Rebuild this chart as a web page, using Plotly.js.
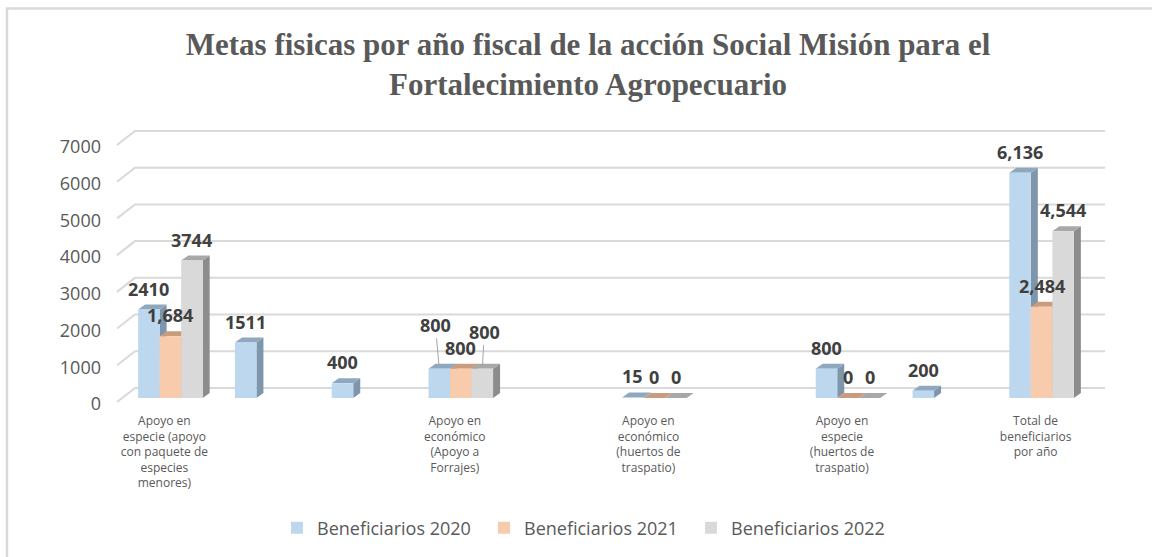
<!DOCTYPE html>
<html><head><meta charset="utf-8">
<script src="https://cdn.plot.ly/plotly-3.0.1.min.js"></script>
<style>html,body{margin:0;padding:0;background:#fff}#chart{width:1152px;height:557px}</style>
</head><body><div id="chart"></div>
<script>
// ---------- data ----------
const categories = [
  "Apoyo en<br>especie (apoyo<br>con paquete de<br>especies<br>menores)",
  "", "",
  "Apoyo en<br>económico<br>(Apoyo a<br>Forrajes)",
  "",
  "Apoyo en<br>económico<br>(huertos de<br>traspatio)",
  "",
  "Apoyo en<br>especie<br>(huertos de<br>traspatio)",
  "",
  "Total de<br>beneficiarios<br>por año"
];
const xPos = [0, 1, 2, 3, 4, 5, 6, 7, 8, 9];
const b2020 = [2410, 1511, 400, 800, null, 15, null, 800, 200, 6136];
const b2021 = [1684, null, null, 800, null, 0, null, 0, null, 2484];
const b2022 = [3744, null, null, 800, null, 0, null, 0, null, 4544];
const labels2020 = ["2410", "1511", "400", "800", null, "15", null, "800", "200", "6,136"];
const labels2021 = ["1,684", null, null, "800", null, "0", null, "0", null, "2,484"];
const labels2022 = ["3744", null, null, "800", null, "0", null, "0", null, "4,544"];
const seriesNames = ["Beneficiarios 2020", "Beneficiarios 2021", "Beneficiarios 2022"];
const yTicks = [0, 1000, 2000, 3000, 4000, 5000, 6000, 7000];

// ---------- style / geometry ----------
const W = 1152, H = 557;
const L = 122, R = 62;
const valTop = 141, valBottom = 399;      // pixel rows of 7000 and 0 on the bar scale
const padTop = 16, padBottom = 8;         // extra room so slanted gridlines are not clipped
const T = valTop - padTop, B = H - valBottom - padBottom;
const plotW = W - L - R, plotH = H - T - B;
const yMax = 7000;
const pxPerY = (valBottom - valTop) / yMax;
const yRange = [-padBottom / pxPerY, yMax + padTop / pxPerY];
const barGap = 1 / 3;
const barW = (1 - barGap) / 3;
const dx = 7 * xPos.length / plotW;   // bar depth (7px) in x units
const dy = 5 / pxPerY;                // bar depth (5px) in y units
const colors = [
  {front: "#BDD7EE", top: "#8FA8BF", side: "#7E96AC"},
  {front: "#F8CBAD", top: "#C99B7F", side: "#B98C70"},
  {front: "#D9D9D9", top: "#A8A8A8", side: "#8C8C8C"}
];
const values = [b2020, b2021, b2022];
const labels = [labels2020, labels2021, labels2022];
const leaderOffsets = {"3-0": [-4, -44], "3-2": [2, -37]};

const traces = values.map((vals, k) => ({
  type: "bar", name: seriesNames[k], x: xPos, y: vals,
  marker: {color: colors[k].front, line: {width: 0}},
  hoverinfo: "skip"
}));

const sideShapes = [], topShapes = [], annotations = [];
values.forEach((vals, k) => {
  vals.forEach((v, i) => {
    if (v === null) return;
    const x0 = xPos[i] + (k - 1) * barW - barW / 2, x1 = x0 + barW;
    sideShapes.push({type: "path", xref: "x", yref: "y", layer: "below",
      path: `M${x1},0 L${x1},${v} L${x1 + dx},${v + dy} L${x1 + dx},${dy} Z`,
      fillcolor: colors[k].side, line: {width: 0}});
    topShapes.push({type: "path", xref: "x", yref: "y", layer: "below",
      path: `M${x0},${v} L${x1},${v} L${x1 + dx},${v + dy} L${x0 + dx},${v + dy} Z`,
      fillcolor: colors[k].top, line: {width: 0}});
    const lab = labels[k][i];
    if (lab === null) return;
    const key = i + "-" + k;
    const base = {x: (x0 + x1) / 2, y: v, xref: "x", yref: "y", text: lab,
      font: {family: "Open Sans", size: 18, color: "#404040", weight: "bold"}};
    if (leaderOffsets[key]) {
      annotations.push(Object.assign(base, {showarrow: true, arrowhead: 0,
        arrowwidth: 1, arrowcolor: "#A6A6A6", ax: leaderOffsets[key][0],
        ay: leaderOffsets[key][1], standoff: 1}));
    } else {
      annotations.push(Object.assign(base, {showarrow: false, yshift: 21}));
    }
  });
});

// back-wall gridlines with 3D slant
const gridShapes = yTicks.map(t => ({
  type: "path", xref: "paper", yref: "y", xsizemode: "pixel", ysizemode: "pixel",
  xanchor: 0, yanchor: t, layer: "below",
  path: `M-5,-4 L13,10 L983,10`,
  line: {color: "#D9D9D9", width: 2}
}));

// outer chart frame (top and left edges)
const px = v => (v - L) / plotW, py = v => (H - B - v) / plotH;
const frame = {type: "path", xref: "paper", yref: "paper", layer: "below",
  path: `M${px(7)},${py(H + 5)} L${px(7)},${py(8)} L${px(W + 5)},${py(8)}`,
  line: {color: "#D9D9D9", width: 2.5}};

const layout = {
  width: W, height: H,
  margin: {l: L, r: R, t: T, b: B},
  paper_bgcolor: "#ffffff", plot_bgcolor: "rgba(0,0,0,0)",
  barmode: "group", bargap: barGap, bargroupgap: 0,
  title: {text: "Metas fisicas por año fiscal de la acción Social Misión para el<br>Fortalecimiento Agropecuario",
    font: {family: "Liberation Serif", size: 31, color: "#595959", weight: "bold"},
    xref: "container", yref: "container", x: 588 / W, xanchor: "center",
    y: 1 - 55 / H, yanchor: "middle"},
  xaxis: {type: "linear", range: [-0.5, 9.5], tickmode: "array", tickvals: xPos,
    ticktext: categories, showgrid: false, zeroline: false, showline: false,
    ticks: "", ticklabelstandoff: 6, ticklabelshift: -6,
    tickfont: {family: "Open Sans", size: 12, color: "#595959"}, fixedrange: true},
  yaxis: {range: yRange, tickmode: "array", tickvals: yTicks, ticktext: yTicks.map(String),
    showgrid: false, zeroline: false, showline: false, ticks: "",
    ticklabelstandoff: 20, ticklabelshift: 6,
    tickfont: {family: "Open Sans", size: 18, color: "#595959"}, fixedrange: true},
  showlegend: true,
  legend: {orientation: "h", x: px(277), xanchor: "left", y: py(528), yanchor: "middle",
    entrywidth: 162, entrywidthmode: "pixels", traceorder: "normal",
    font: {family: "Open Sans", size: 18, color: "#595959"}, bgcolor: "rgba(0,0,0,0)"},
  shapes: [frame].concat(gridShapes, sideShapes, topShapes),
  annotations: annotations
};

Plotly.newPlot("chart", traces, layout, {staticPlot: true, displayModeBar: false});
</script>
</body></html>
